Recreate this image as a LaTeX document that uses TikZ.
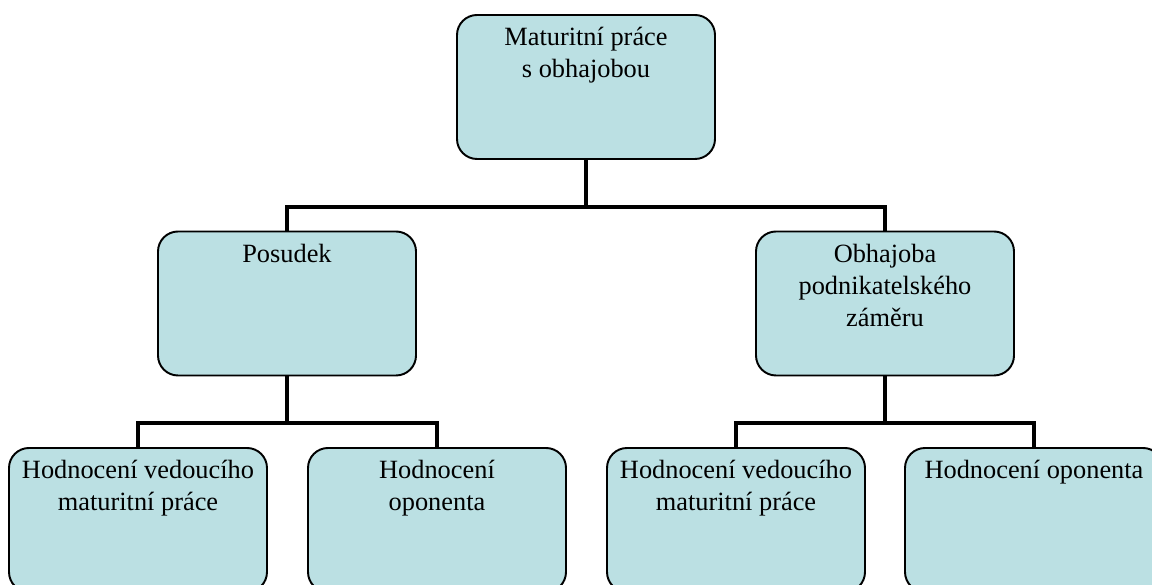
\documentclass[tikz,border=0pt]{standalone}
\usepackage{fontspec}
\setmainfont{Liberation Serif}
\usepackage{tikz}
\usetikzlibrary{arrows,calc}
\definecolor{boxfill}{RGB}{187,224,227}
\newcommand{\boxtext}[1]{\parbox[t][2.54cm][t]{4.96cm}{\centering\fontsize{15}{18.2}\selectfont\strut #1}}

\begin{document}
\begin{tikzpicture}[
		box/.style={draw, line width=1.1pt, fill=boxfill, rounded corners=0.4cm, inner xsep=0.1cm, inner ysep=0.17cm},
		bus/.style={line width=2.8pt}
	]
		\clip (0,0) rectangle (23.04,11.7);
		\node[box] (M) at (11.72,9.96) {\boxtext{Maturitní práce\\s obhajobou}};
		\node[box] (P) at (5.74,5.63) {\boxtext{Posudek}};
		\node[box] (O) at (17.70,5.63) {\boxtext{Obhajoba\\podnikatelského\\záměru}};
		\node[box] (P1) at (2.76,1.30) {\boxtext{Hodnocení vedoucího\\maturitní práce}};
		\node[box] (P2) at (8.74,1.30) {\boxtext{Hodnocení\\oponenta}};
		\node[box] (O1) at (14.72,1.30) {\boxtext{Hodnocení vedoucího\\maturitní práce}};
		\node[box] (O2) at (20.68,1.30) {\boxtext{Hodnocení oponenta}};
		\coordinate (JM) at (11.72,7.56);
		\coordinate (JP) at (5.74,3.24);
		\coordinate (JO) at (17.70,3.24);
		\draw[bus] (M.south) -- (JM);
		\draw[bus] (P.north) |- (JM) -| (O.north);
		\draw[bus] (P.south) -- (JP);
		\draw[bus] (P1.north) |- (JP) -| (P2.north);
		\draw[bus] (O.south) -- (JO);
		\draw[bus] (O1.north) |- (JO) -| (O2.north);
	\end{tikzpicture}
\end{document}
